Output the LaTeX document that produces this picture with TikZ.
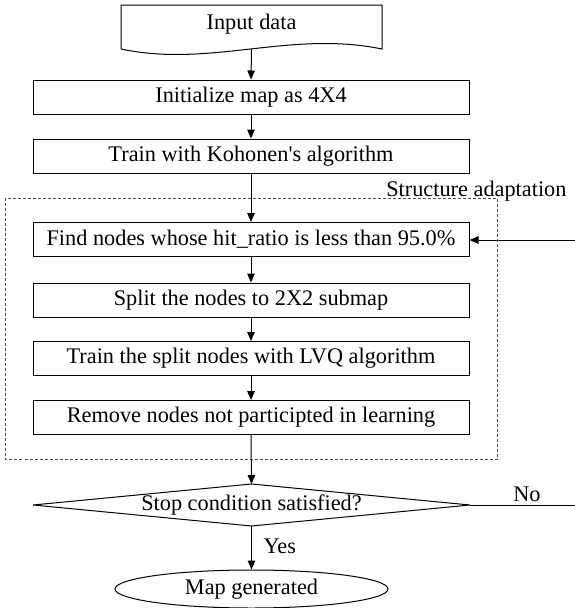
\documentclass[tikz,border=0pt]{standalone}
\usepackage{fontspec}
\setmainfont{Liberation Serif}
\usetikzlibrary{shapes.geometric,arrows.meta}
\begin{document}
\begin{tikzpicture}[x=1pt,y=-1pt,
  font=\fontsize{22.3}{26}\selectfont,
  line width=1pt,
  proc/.style={draw, minimum width=436pt, minimum height=34pt, inner sep=0pt},
  arr/.style={-{Triangle[length=9pt,width=7.5pt]}},
  grp/.style={draw=black!70, line width=0.8pt, dash pattern=on 3pt off 2pt},
  lbl/.style={inner sep=0pt}]
\useasboundingbox (0,0) rectangle (575,608);
% input document shape
\draw (121,49) -- (121,5) -- (382,5) -- (382,49)
      .. controls (290,30) and (210,68) .. (121,49);
\node[lbl] (in) at (251.5,24) {Input data};
\coordinate (inb) at (251.5,49);
% process boxes
\node[proc] (b1) at (251,97) {Initialize map as 4X4};
\node[proc] (b2) at (251,156) {Train with Kohonen\textquotesingle s algorithm};
\node[proc] (b3) at (251,239.5) {Find nodes whose hit\_ratio is less than 95.0\%};
\node[proc] (b4) at (251,300) {Split the nodes to 2X2 submap};
\node[proc] (b5) at (251,358.5) {Train the split nodes with LVQ algorithm};
\node[proc] (b6) at (251,417.5) {Remove nodes not participted in learning};
% group
\draw[grp] (5.5,198) rectangle (497,459);
\node[lbl, anchor=base east] (sa) at (567,196) {Structure adaptation};
% decision
\coordinate (dt) at (251.5,484);
\coordinate (dr) at (470,505);
\coordinate (db) at (251.5,526);
\coordinate (dl) at (33,505);
\draw (dt) -- (dr) -- (db) -- (dl) -- cycle;
\node[lbl] (dec) at (251.5,505) {Stop condition satisfied?};
% end
\node[draw, ellipse, minimum width=273pt, minimum height=38pt, inner sep=0pt,
      text height=15pt, text depth=5pt] (end) at (251.5,589) {Map generated};
% connectors
\draw[arr] (inb) -- (b1.north);
\draw[arr] (b1) -- (b2);
\draw[arr] (b2) -- (b3);
\draw[arr] (b3) -- (b4);
\draw[arr] (b4) -- (b5);
\draw[arr] (b5) -- (b6);
\draw[arr] (b6.south) -- (dt);
\draw[arr] (db) -- (end.north);
\coordinate (fb) at (575,240);
\draw[arr] (fb) -- (b3.east |- fb);
\coordinate (noend) at (575,505);
\draw (dr) -- (noend);
\node[lbl] (no) at (527,494) {No};
\node[lbl, anchor=west] (yes) at (263,546) {Yes};
\end{tikzpicture}
\end{document}
